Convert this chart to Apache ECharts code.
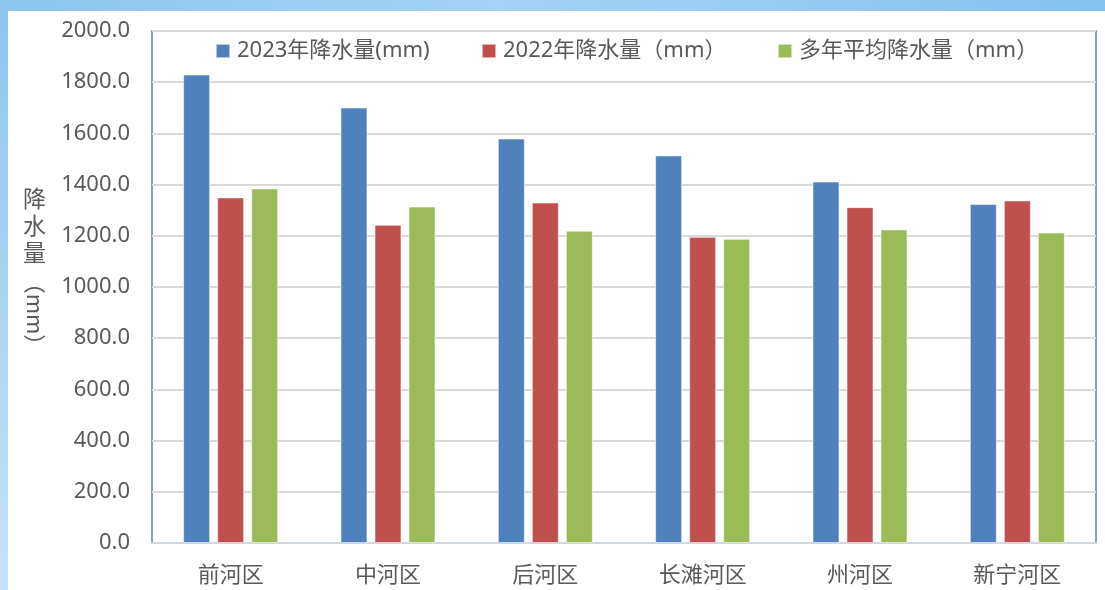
<!DOCTYPE html>
<html>
<head>
<meta charset="utf-8">
<script src="https://cdn.jsdelivr.net/npm/echarts@6/dist/echarts.min.js"></script>
<style>
  html, body { margin: 0; padding: 0; background: #fff; }
  #chart { width: 1105px; height: 590px; }
</style>
</head>
<body>
<div id="chart"></div>
<script>
// 河段
const districts = ['前河区', '中河区', '后河区', '长滩河区', '州河区', '新宁河区']
// 降水量 (mm)
const rain2023 = [1830, 1701, 1580, 1514, 1412, 1324]
const rain2022 = [1350, 1243, 1330, 1196, 1312, 1338]
const rainAvg = [1385, 1314, 1220, 1188, 1225, 1213]
const seriesNames = ['2023年降水量(mm)', '2022年降水量（mm）', '多年平均降水量（mm）']
const colors = ['#4f81bd', '#c0504d', '#9bbb59']

const textColor = '#595959'
const font = '"Noto Sans", "Noto Sans CJK SC", sans-serif'

const chart = echarts.init(document.getElementById('chart'))

// 三个图例分开放，方便对齐位置
const legendLefts = [215, 481, 777]
const legends = seriesNames.map((name, i) => ({
  data: [name],
  left: legendLefts[i],
  top: 40,
  padding: 0,
  itemWidth: 14,
  itemHeight: 14,
  icon: 'rect',
  itemGap: 0,
  textStyle: { color: textColor, fontSize: 22, fontFamily: font, padding: [0, 0, 0, 2] }
}))

chart.setOption({
  animation: false,
  color: colors,
  legend: legends,
  graphic: [
    // 外框浅蓝背景
    {
      type: 'rect', z: -10, silent: true,
      shape: { x: 0, y: 0, width: 1105, height: 11 },
      style: {
        fill: new echarts.graphic.LinearGradient(0, 0, 1, 0, [
          { offset: 0, color: '#8cc5ee' },
          { offset: 0.45, color: '#a3d3f6' },
          { offset: 1, color: '#86c1ee' }
        ])
      }
    },
    {
      type: 'rect', z: -10, silent: true,
      shape: { x: 0, y: 0, width: 8, height: 590 },
      style: {
        fill: new echarts.graphic.LinearGradient(0, 0, 0, 1, [
          { offset: 0, color: '#8cc5ee' },
          { offset: 1, color: '#c4e3fa' }
        ])
      }
    },
    // 纵轴标题
    {
      type: 'text', left: 23, top: 185,
      style: {
        text: '降\n水\n量', fill: textColor, fontSize: 23, lineHeight: 27,
        fontFamily: '"Noto Sans CJK SC", sans-serif'
      }
    },
    {
      type: 'text', x: 35, y: 314, rotation: -Math.PI / 2,
      style: {
        text: '（mm）', fill: textColor, fontSize: 22,
        fontFamily: '"Noto Sans CJK SC", sans-serif',
        align: 'center', verticalAlign: 'middle'
      }
    }
  ],
  grid: {
    left: 152,
    top: 31,
    right: 9,
    bottom: 47,
    show: true,
    borderColor: '#4f81bd',
    borderWidth: 1.5
  },
  xAxis: {
    type: 'category',
    data: districts,
    axisLine: { lineStyle: { color: '#d0d7e2', width: 2 } },
    axisTick: { show: false },
    axisLabel: {
      color: textColor,
      fontSize: 22,
      margin: 20,
      fontFamily: '"Noto Sans CJK SC", sans-serif'
    }
  },
  yAxis: {
    type: 'value',
    min: 0,
    max: 2000,
    interval: 200,
    axisLine: { show: false },
    axisTick: { show: false },
    splitLine: { lineStyle: { color: '#d9d9d9', width: 2 } },
    axisLabel: {
      color: textColor,
      fontSize: 22,
      margin: 22,
      fontFamily: font,
      formatter: v => v.toFixed(1)
    }
  },
  series: [
    { name: seriesNames[0], type: 'bar', data: rain2023 },
    { name: seriesNames[1], type: 'bar', data: rain2022 },
    { name: seriesNames[2], type: 'bar', data: rainAvg }
  ].map(s => ({
    ...s,
    barWidth: 27,
    barGap: '26%',
    itemStyle: { borderColor: 'rgba(255,255,255,0.55)', borderWidth: 1 }
  }))
})
</script>
</body>
</html>
